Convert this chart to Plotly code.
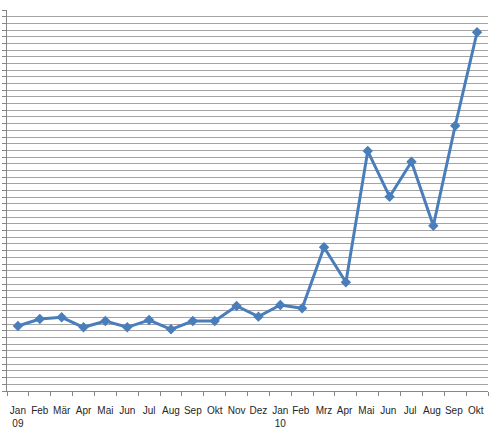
import plotly.graph_objects as go

months = ["Jan<br>09", "Feb", "Mär", "Apr", "Mai", "Jun", "Jul", "Aug", "Sep", "Okt", "Nov", "Dez",
          "Jan<br>10", "Feb ", "Mrz", "Apr ", "Mai ", "Jun ", "Jul ", "Aug ", "Sep ", "Okt "]
values = [9.72, 10.77, 11.03, 9.53, 10.47, 9.53, 10.62, 9.23, 10.47, 10.47, 12.72, 11.12,
          12.87, 12.37, 21.5, 16.26, 35.9, 29.07, 34.3, 24.73, 39.69, 53.67]

fig = go.Figure()
fig.add_trace(go.Scatter(
    x=months, y=values, mode="lines+markers",
    line=dict(color="#4a7ebb", width=3),
    marker=dict(symbol="diamond", size=8, color="#4a7ebb"),
    showlegend=False,
))

fig.update_layout(
    width=500, height=439,
    margin=dict(l=7, r=12, t=10, b=48),
    paper_bgcolor="white", plot_bgcolor="white",
    font=dict(family="Liberation Sans, Arial, sans-serif", size=10, color="#262626"),
    xaxis=dict(
        type="category", range=[-0.5, len(months) - 0.5],
        tickson="boundaries", ticks="outside", ticklen=4,
        tickcolor="#868686", showline=True, linecolor="#868686", linewidth=1,
        showgrid=False, ticklabelstandoff=10, tickangle=0, automargin=False,
    ),
    yaxis=dict(
        range=[0, 57], dtick=1, tick0=0, showticklabels=False,
        ticks="outside", ticklen=4, tickcolor="#868686",
        showline=True, linecolor="#868686", linewidth=1, automargin=False,
        showgrid=True, gridcolor="#a4a4a4", gridwidth=1, zeroline=False,
    ),
)

fig.write_html("out.html", config={"displayModeBar": False},
               post_script="document.body.style.margin='0';")
